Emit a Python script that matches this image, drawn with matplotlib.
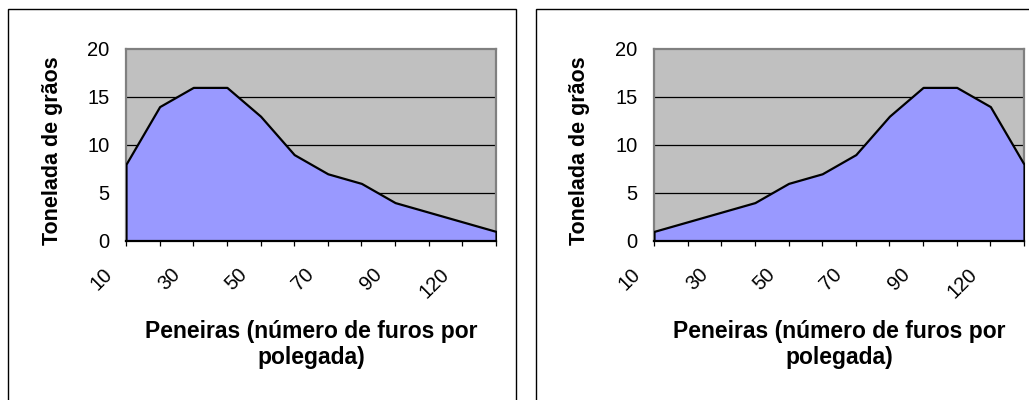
import matplotlib
matplotlib.use("Agg")
import matplotlib.pyplot as plt
from matplotlib.patches import Rectangle
from matplotlib.transforms import ScaledTranslation

plt.rcParams["font.family"] = ["Liberation Sans", "DejaVu Sans"]

# dados
peneiras = ["10", "20", "30", "40", "50", "60", "70", "80", "90", "100", "120", "140"]
toneladas_esq = [8, 14, 16, 16, 13, 9, 7, 6, 4, 3, 2, 1]
toneladas_dir = [1, 2, 3, 4, 6, 7, 9, 13, 16, 16, 14, 8]
y_ticks = [0, 5, 10, 15, 20]

titulo_y = "Tonelada de grãos"
titulo_x = "Peneiras (número de furos por\npolegada)"

W, H = 1029, 400
fig = plt.figure(figsize=(W / 100, H / 100), dpi=100)


def painel(x0_px, valores):
    # moldura do gráfico
    fig.add_artist(Rectangle(((x0_px - 118) / W, -0.1), 508 / W, 1.1 - 9 / H,
                             transform=fig.transFigure, fill=False,
                             ec="black", lw=1.0))

    ax = fig.add_axes([x0_px / W, (H - 241) / H, 370 / W, 192 / H])
    ax.set_facecolor("#C0C0C0")
    x = list(range(len(valores)))
    ax.fill_between(x, 0, valores, facecolor="#9999FF", edgecolor="black",
                    lw=1.6, zorder=3)
    ax.set_xlim(0, len(valores) - 1)
    ax.set_ylim(0, 20)

    ax.set_yticks(y_ticks)
    ax.set_yticklabels([str(v) for v in y_ticks])
    for g in y_ticks[1:-1]:
        ax.axhline(g, color="black", lw=0.9, zorder=2)

    ax.set_xticks(x)
    rotulos = [p if i % 2 == 0 else "" for i, p in enumerate(peneiras)]
    ax.set_xticklabels(rotulos)

    ax.tick_params(axis="y", length=0, pad=12, labelsize=14.5)
    ax.tick_params(axis="x", length=3.6, width=0.9, pad=18.3, labelsize=14.5,
                   direction="out")
    desloc = ScaledTranslation(-0.166, 0, fig.dpi_scale_trans)
    for lab in ax.get_xticklabels():
        lab.set_rotation(45)
        lab.set_ha("right")
        lab.set_va("center")
        lab.set_rotation_mode("anchor")
        lab.set_transform(lab.get_transform() + desloc)

    for s in ["top", "right", "left"]:
        ax.spines[s].set_color("#808080")
        ax.spines[s].set_linewidth(1.6)
    ax.spines["bottom"].set_color("black")
    ax.spines["bottom"].set_linewidth(1.6)
    ax.spines["bottom"].set_zorder(4)

    ax.set_ylabel(titulo_y, fontsize=15.5, fontweight="bold", va="center")
    ax.yaxis.set_label_coords(-0.2, 0.469)
    ax.text(0.5, -0.41, titulo_x, transform=ax.transAxes, ha="center",
            va="top", fontsize=16.5, fontweight="bold", linespacing=1.2)
    return ax


painel(126, toneladas_esq)
painel(654, toneladas_dir)

fig.savefig("out.png", dpi=100)
